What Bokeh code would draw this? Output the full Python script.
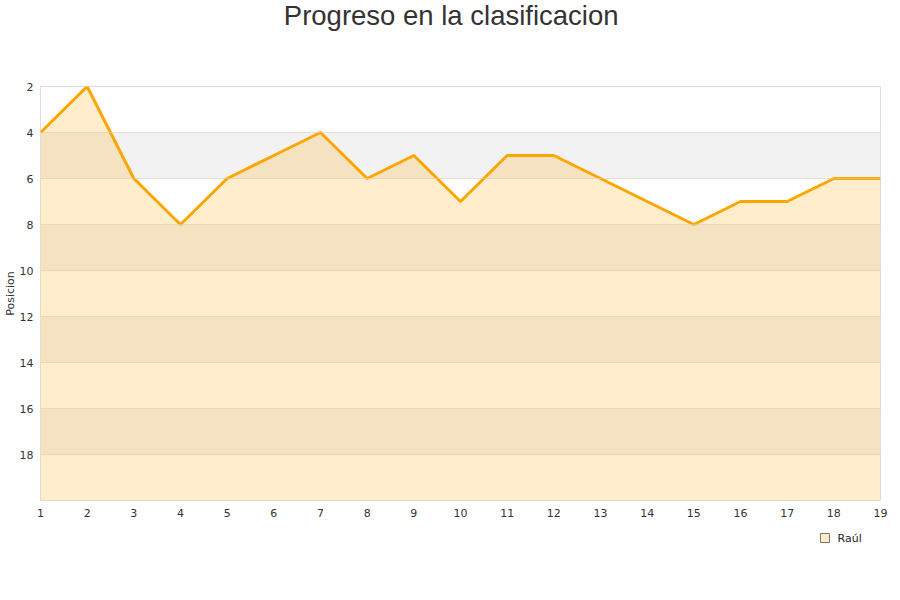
from bokeh.plotting import figure
from bokeh.layouts import column
from bokeh.models import Range1d, FixedTicker, BoxAnnotation, Label
from bokeh.core.properties import value
from bokeh.embed import file_html
from bokeh.resources import INLINE

# Jornadas and league position after each one
jornadas = list(range(1, 20))
posicion = [4, 2, 6, 8, 6, 5, 4, 6, 5, 7, 5, 5, 6, 7, 8, 7, 7, 6, 6]
y_ticks = [2, 4, 6, 8, 10, 12, 14, 16, 18]
peor_posicion = 20
franjas = [4, 8, 12, 16]  # lower edge of each shaded band (2 positions tall)
jugador = "Raúl"
titulo = "Progreso en la clasificacion"

W = 900


def blank(height):
    """An empty strip (no axes, no grid) in pixel coordinates, y growing downwards."""
    f = figure(width=W, height=height, x_range=Range1d(0, W), y_range=Range1d(height, 0),
               x_axis_type=None, y_axis_type=None,
               output_backend="svg", toolbar_location=None,
               min_border=0, outline_line_color=None)
    f.grid.visible = False
    return f


# header with the title
head = blank(76)
head.add_layout(Label(x=440, y=15, text=titulo, text_align="center",
                      text_baseline="middle", text_font="Liberation Sans",
                      text_font_size="27.5px", text_color="#333333"))

# main chart
p = figure(
    width=W, height=454,
    x_range=Range1d(1, 19),
    y_range=Range1d(peor_posicion, 2),
    output_backend="svg", toolbar_location=None,
    min_border_left=40, min_border_right=20,
    min_border_top=10, min_border_bottom=30,
    background_fill_color="white", border_fill_color="white",
)
p.outline_line_color = "#dddddd"

# alternating shaded bands
for lo in franjas:
    p.add_layout(BoxAnnotation(bottom=lo, top=lo + 2, fill_color="#f2f2f2",
                               fill_alpha=1.0, line_alpha=0, level="underlay"))

# area under the position line
p.varea(x=jornadas, y1=posicion, y2=[peor_posicion] * len(jornadas),
        fill_color="#ffa500", fill_alpha=0.2)
p.line(x=jornadas, y=posicion, line_color="#ffa500", line_width=3)

# grid
p.xgrid.grid_line_color = None
p.ygrid.ticker = FixedTicker(ticks=y_ticks)
p.ygrid.grid_line_color = "#dccfb4"
p.ygrid.level = "overlay"
p.ygrid.grid_line_alpha = 0.6

# axes
p.xaxis.ticker = FixedTicker(ticks=jornadas)
p.yaxis.ticker = FixedTicker(ticks=y_ticks)
for ax in (p.xaxis[0], p.yaxis[0]):
    ax.axis_line_color = None
    ax.major_tick_line_color = None
    ax.minor_tick_line_color = None
    ax.major_tick_out = 0
    ax.major_label_text_font = "DejaVu Sans"
    ax.major_label_text_font_size = "11px"
    ax.major_label_text_color = "#333333"
p.xaxis.major_label_standoff = 8
p.yaxis.major_label_standoff = 7
p.yaxis.axis_label = "Posicion"
p.yaxis.axis_label_text_font = "DejaVu Sans"
p.yaxis.axis_label_text_font_size = "11px"
p.yaxis.axis_label_text_font_style = "normal"
p.yaxis.axis_label_text_color = "#333333"
p.yaxis.axis_label_standoff = 0

# legend strip under the chart: swatch + series name
foot = blank(70)
foot.scatter(x=[840.5], y=[7.5], marker="square", size=9,
             fill_color="#ffecc8", line_color="#777777", line_width=1)
foot.text(x=[854], y=[7.5], text=[jugador], text_align="left", text_baseline="middle",
          text_font=value("DejaVu Sans"), text_font_size="11px", text_color="#222222")

page = column(head, p, foot, spacing=0)
open("out.html", "w").write(file_html(page, INLINE))
